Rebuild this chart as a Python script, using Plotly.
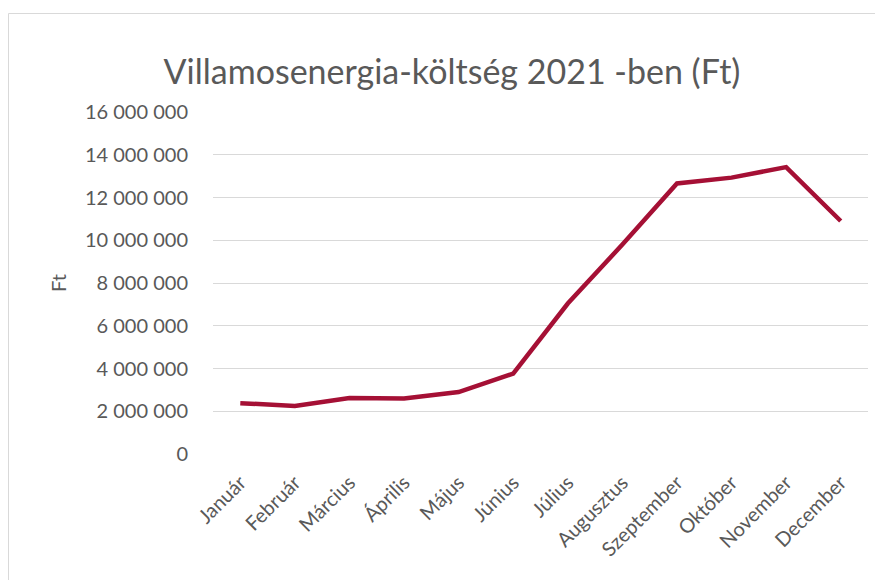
import plotly.graph_objects as go

months = ["Január", "Február", "Március", "Április", "Május", "Június",
          "Július", "Augusztus", "Szeptember", "Október", "November", "December"]
costs = [2380000, 2250000, 2620000, 2600000, 2900000, 3760000,
         7040000, 9800000, 12660000, 12930000, 13420000, 10900000]
ytick_vals = [0, 2000000, 4000000, 6000000, 8000000, 10000000, 12000000, 14000000, 16000000]
ytick_text = ["0", "2 000 000", "4 000 000", "6 000 000", "8 000 000",
              "10 000 000", "12 000 000", "14 000 000", "16 000 000"]

FONT = "Lato, 'Open Sans', sans-serif"
GREY = "#595959"
OFF = 8  # page body margin

W, H = 883 - OFF, 580 - OFF
L, R, T, B = 213 - OFF, 868 - OFF, 112 - OFF, 454 - OFF
PW, PH = R - L, B - T

fig = go.Figure()
fig.add_trace(go.Scatter(
    x=months, y=costs, mode="lines",
    line=dict(color="#A51035", width=4.5),
    hoverinfo="x+y",
))

bx = (8.5 - 213) / PW
by = (454 - 13.5) / PH
border = dict(color="#d9d9d9", width=1)

fig.update_layout(
    width=W, height=H,
    margin=dict(l=L, r=W - R, t=T, b=H - B),
    paper_bgcolor="white", plot_bgcolor="white",
    showlegend=False,
    font=dict(family=FONT, color=GREY),
    title=dict(text="Villamosenergia-költség 2021 -ben (Ft)",
               x=(452 - OFF) / W, xanchor="center",
               y=1 - (72 - OFF) / H, yanchor="middle",
               font=dict(size=34, color=GREY, family=FONT)),
    xaxis=dict(showgrid=False, showline=False, ticks="", tickangle=-45,
               tickfont=dict(size=20, color=GREY), range=[-0.5, 11.5],
               ticklabelstandoff=12),
    yaxis=dict(range=[0, 16000000], tickvals=ytick_vals, ticktext=ytick_text,
               showgrid=True, gridcolor="#d9d9d9", gridwidth=1,
               zeroline=False, showline=False, ticks="",
               tickfont=dict(size=20, color=GREY),
               ticklabelstandoff=24,
               title=dict(text="Ft", font=dict(size=20, color=GREY), standoff=12)),
    shapes=[
        dict(type="line", xref="paper", yref="paper",
             x0=bx, x1=1.1, y0=by, y1=by, line=border, layer="below"),
        dict(type="line", xref="paper", yref="paper",
             x0=bx, x1=bx, y0=-0.6, y1=by, line=border, layer="below"),
    ],
)

fig.write_html("out.html")
